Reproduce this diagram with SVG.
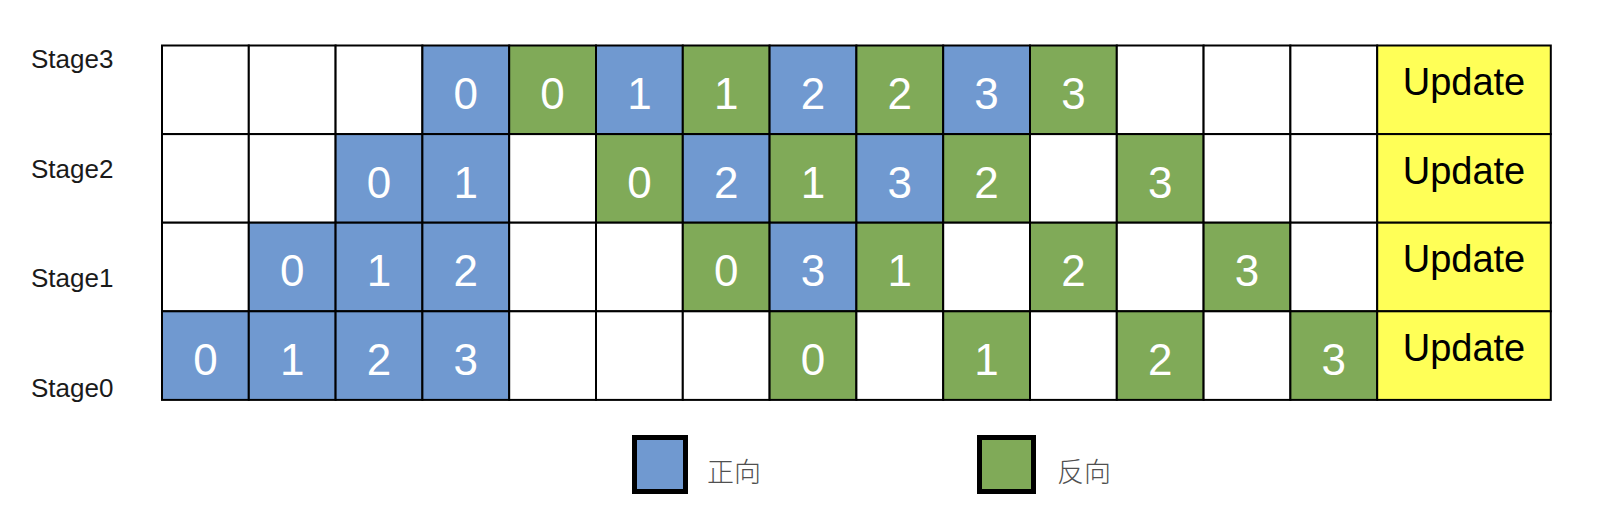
<svg xmlns="http://www.w3.org/2000/svg" width="1602" height="520" viewBox="0 0 1602 520">
<style>
.c{stroke:#000;stroke-width:2}
.w{fill:#fff}
.b{fill:#7099D0}
.g{fill:#80AA58}
.y{fill:#FFFF57}
.n{font-family:"Liberation Sans",Arial,sans-serif;font-size:44px;fill:#fff;text-anchor:middle}
.u{font-family:"Liberation Sans",Arial,sans-serif;font-size:38px;fill:#000;text-anchor:middle}
.s{font-family:"Liberation Sans",Arial,sans-serif;font-size:26px;fill:#1a1a1a}
.l{font-family:"Liberation Sans","Noto Sans CJK SC",sans-serif;font-size:27px;font-weight:300;fill:#505050}
.k{stroke:#000;stroke-width:5}
</style>
<rect width="1602" height="520" fill="#fff"/>
<g id="labels">
<text class="s" x="31" y="68">Stage3</text>
<text class="s" x="31" y="178">Stage2</text>
<text class="s" x="31" y="287">Stage1</text>
<text class="s" x="31" y="397">Stage0</text>
</g>
<g id="row-stage3">
<g id="s3c0"><rect class="c w" x="162" y="45.5" width="86.8" height="88.6"/></g>
<g id="s3c1"><rect class="c w" x="248.8" y="45.5" width="86.8" height="88.6"/></g>
<g id="s3c2"><rect class="c w" x="335.6" y="45.5" width="86.8" height="88.6"/></g>
<g id="s3c3"><rect class="c b" x="422.4" y="45.5" width="86.8" height="88.6"/><text class="n" x="465.8" y="109">0</text></g>
<g id="s3c4"><rect class="c g" x="509.2" y="45.5" width="86.8" height="88.6"/><text class="n" x="552.6" y="109">0</text></g>
<g id="s3c5"><rect class="c b" x="596" y="45.5" width="86.8" height="88.6"/><text class="n" x="639.4" y="109">1</text></g>
<g id="s3c6"><rect class="c g" x="682.8" y="45.5" width="86.8" height="88.6"/><text class="n" x="726.2" y="109">1</text></g>
<g id="s3c7"><rect class="c b" x="769.6" y="45.5" width="86.8" height="88.6"/><text class="n" x="813" y="109">2</text></g>
<g id="s3c8"><rect class="c g" x="856.4" y="45.5" width="86.8" height="88.6"/><text class="n" x="899.8" y="109">2</text></g>
<g id="s3c9"><rect class="c b" x="943.2" y="45.5" width="86.8" height="88.6"/><text class="n" x="986.6" y="109">3</text></g>
<g id="s3c10"><rect class="c g" x="1030" y="45.5" width="86.8" height="88.6"/><text class="n" x="1073.4" y="109">3</text></g>
<g id="s3c11"><rect class="c w" x="1116.8" y="45.5" width="86.8" height="88.6"/></g>
<g id="s3c12"><rect class="c w" x="1203.6" y="45.5" width="86.8" height="88.6"/></g>
<g id="s3c13"><rect class="c w" x="1290.4" y="45.5" width="86.8" height="88.6"/></g>
<g id="s3u"><rect class="c y" x="1377.2" y="45.5" width="173.6" height="88.6"/><text class="u" x="1464" y="95">Update</text></g>
</g>
<g id="row-stage2">
<g id="s2c0"><rect class="c w" x="162" y="134.1" width="86.8" height="88.6"/></g>
<g id="s2c1"><rect class="c w" x="248.8" y="134.1" width="86.8" height="88.6"/></g>
<g id="s2c2"><rect class="c b" x="335.6" y="134.1" width="86.8" height="88.6"/><text class="n" x="379" y="197.6">0</text></g>
<g id="s2c3"><rect class="c b" x="422.4" y="134.1" width="86.8" height="88.6"/><text class="n" x="465.8" y="197.6">1</text></g>
<g id="s2c4"><rect class="c w" x="509.2" y="134.1" width="86.8" height="88.6"/></g>
<g id="s2c5"><rect class="c g" x="596" y="134.1" width="86.8" height="88.6"/><text class="n" x="639.4" y="197.6">0</text></g>
<g id="s2c6"><rect class="c b" x="682.8" y="134.1" width="86.8" height="88.6"/><text class="n" x="726.2" y="197.6">2</text></g>
<g id="s2c7"><rect class="c g" x="769.6" y="134.1" width="86.8" height="88.6"/><text class="n" x="813" y="197.6">1</text></g>
<g id="s2c8"><rect class="c b" x="856.4" y="134.1" width="86.8" height="88.6"/><text class="n" x="899.8" y="197.6">3</text></g>
<g id="s2c9"><rect class="c g" x="943.2" y="134.1" width="86.8" height="88.6"/><text class="n" x="986.6" y="197.6">2</text></g>
<g id="s2c10"><rect class="c w" x="1030" y="134.1" width="86.8" height="88.6"/></g>
<g id="s2c11"><rect class="c g" x="1116.8" y="134.1" width="86.8" height="88.6"/><text class="n" x="1160.2" y="197.6">3</text></g>
<g id="s2c12"><rect class="c w" x="1203.6" y="134.1" width="86.8" height="88.6"/></g>
<g id="s2c13"><rect class="c w" x="1290.4" y="134.1" width="86.8" height="88.6"/></g>
<g id="s2u"><rect class="c y" x="1377.2" y="134.1" width="173.6" height="88.6"/><text class="u" x="1464" y="183.6">Update</text></g>
</g>
<g id="row-stage1">
<g id="s1c0"><rect class="c w" x="162" y="222.7" width="86.8" height="88.6"/></g>
<g id="s1c1"><rect class="c b" x="248.8" y="222.7" width="86.8" height="88.6"/><text class="n" x="292.2" y="286.2">0</text></g>
<g id="s1c2"><rect class="c b" x="335.6" y="222.7" width="86.8" height="88.6"/><text class="n" x="379" y="286.2">1</text></g>
<g id="s1c3"><rect class="c b" x="422.4" y="222.7" width="86.8" height="88.6"/><text class="n" x="465.8" y="286.2">2</text></g>
<g id="s1c4"><rect class="c w" x="509.2" y="222.7" width="86.8" height="88.6"/></g>
<g id="s1c5"><rect class="c w" x="596" y="222.7" width="86.8" height="88.6"/></g>
<g id="s1c6"><rect class="c g" x="682.8" y="222.7" width="86.8" height="88.6"/><text class="n" x="726.2" y="286.2">0</text></g>
<g id="s1c7"><rect class="c b" x="769.6" y="222.7" width="86.8" height="88.6"/><text class="n" x="813" y="286.2">3</text></g>
<g id="s1c8"><rect class="c g" x="856.4" y="222.7" width="86.8" height="88.6"/><text class="n" x="899.8" y="286.2">1</text></g>
<g id="s1c9"><rect class="c w" x="943.2" y="222.7" width="86.8" height="88.6"/></g>
<g id="s1c10"><rect class="c g" x="1030" y="222.7" width="86.8" height="88.6"/><text class="n" x="1073.4" y="286.2">2</text></g>
<g id="s1c11"><rect class="c w" x="1116.8" y="222.7" width="86.8" height="88.6"/></g>
<g id="s1c12"><rect class="c g" x="1203.6" y="222.7" width="86.8" height="88.6"/><text class="n" x="1247" y="286.2">3</text></g>
<g id="s1c13"><rect class="c w" x="1290.4" y="222.7" width="86.8" height="88.6"/></g>
<g id="s1u"><rect class="c y" x="1377.2" y="222.7" width="173.6" height="88.6"/><text class="u" x="1464" y="272.2">Update</text></g>
</g>
<g id="row-stage0">
<g id="s0c0"><rect class="c b" x="162" y="311.3" width="86.8" height="88.6"/><text class="n" x="205.4" y="374.8">0</text></g>
<g id="s0c1"><rect class="c b" x="248.8" y="311.3" width="86.8" height="88.6"/><text class="n" x="292.2" y="374.8">1</text></g>
<g id="s0c2"><rect class="c b" x="335.6" y="311.3" width="86.8" height="88.6"/><text class="n" x="379" y="374.8">2</text></g>
<g id="s0c3"><rect class="c b" x="422.4" y="311.3" width="86.8" height="88.6"/><text class="n" x="465.8" y="374.8">3</text></g>
<g id="s0c4"><rect class="c w" x="509.2" y="311.3" width="86.8" height="88.6"/></g>
<g id="s0c5"><rect class="c w" x="596" y="311.3" width="86.8" height="88.6"/></g>
<g id="s0c6"><rect class="c w" x="682.8" y="311.3" width="86.8" height="88.6"/></g>
<g id="s0c7"><rect class="c g" x="769.6" y="311.3" width="86.8" height="88.6"/><text class="n" x="813" y="374.8">0</text></g>
<g id="s0c8"><rect class="c w" x="856.4" y="311.3" width="86.8" height="88.6"/></g>
<g id="s0c9"><rect class="c g" x="943.2" y="311.3" width="86.8" height="88.6"/><text class="n" x="986.6" y="374.8">1</text></g>
<g id="s0c10"><rect class="c w" x="1030" y="311.3" width="86.8" height="88.6"/></g>
<g id="s0c11"><rect class="c g" x="1116.8" y="311.3" width="86.8" height="88.6"/><text class="n" x="1160.2" y="374.8">2</text></g>
<g id="s0c12"><rect class="c w" x="1203.6" y="311.3" width="86.8" height="88.6"/></g>
<g id="s0c13"><rect class="c g" x="1290.4" y="311.3" width="86.8" height="88.6"/><text class="n" x="1333.8" y="374.8">3</text></g>
<g id="s0u"><rect class="c y" x="1377.2" y="311.3" width="173.6" height="88.6"/><text class="u" x="1464" y="360.8">Update</text></g>
</g>
<g id="legend-forward">
<rect class="k b" x="634.5" y="437.5" width="51" height="54"/>
<text class="l" x="707" y="482">正向</text>
</g>
<g id="legend-backward">
<rect class="k g" x="979.5" y="437.5" width="54" height="54"/>
<text class="l" x="1057" y="482">反向</text>
</g>
</svg>
